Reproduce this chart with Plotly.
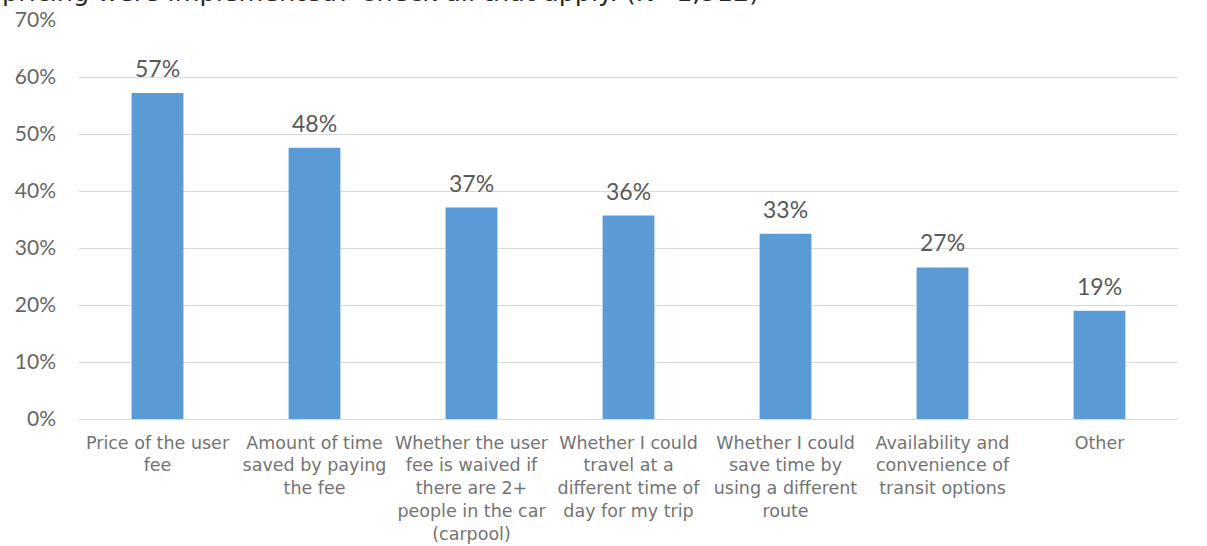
import plotly.graph_objects as go

categories = [
    "Price of the user<br>fee",
    "Amount of time<br>saved by paying<br>the fee",
    "Whether the user<br>fee is waived if<br>there are 2+<br>people in the car<br>(carpool)",
    "Whether I could<br>travel at a<br>different time of<br>day for my trip",
    "Whether I could<br>save time by<br>using a different<br>route",
    "Availability and<br>convenience of<br>transit options",
    "Other",
]
values = [0.572, 0.476, 0.371, 0.357, 0.325, 0.266, 0.190]
labels = ["57%", "48%", "37%", "36%", "33%", "27%", "19%"]
title_text = "pricing were implemented? Check all that apply. (N=1,312)"

FONT = "Lato"
WIDE = "DejaVu Sans"
GRAY = "#595959"

fig = go.Figure(
    go.Bar(
        x=categories,
        y=values,
        marker=dict(color="#5b9bd5", line=dict(width=0)),
        hoverinfo="skip",
    )
)

for c, v, t in zip(categories, values, labels):
    fig.add_annotation(
        x=c, y=v, text=t, showarrow=False,
        xanchor="center", yanchor="bottom", yshift=9,
        font=dict(family=FONT, size=23, color=GRAY),
    )

fig.add_annotation(
    text=title_text,
    xref="paper", yref="paper",
    x=-79 / 1100, y=1.0,
    xanchor="left", yanchor="bottom", yshift=11,
    showarrow=False,
    font=dict(family=WIDE, size=25.5, color="#262626"),
)

fig.update_layout(
    width=1207, height=546,
    margin=dict(l=79, r=29, t=20, b=127),
    paper_bgcolor="white", plot_bgcolor="white",
    showlegend=False,
    bargap=0.67,
    font=dict(family=FONT, color=GRAY),
)
fig.update_yaxes(
    range=[0, 0.7], dtick=0.1, tickformat=".0%",
    showgrid=True, gridcolor="#d9d9d9", gridwidth=1,
    zeroline=True, zerolinecolor="#d9d9d9", zerolinewidth=1,
    tickfont=dict(family=FONT, size=21, color="#666666"),
    ticks="", ticklabelstandoff=22, automargin=False,
)
fig.update_xaxes(
    tickfont=dict(family=WIDE, size=17.5, color="#737373"),
    ticks="", showline=False, tickangle=0, ticklabelstandoff=11,
    automargin=False,
)

fig.write_html("out.html")
